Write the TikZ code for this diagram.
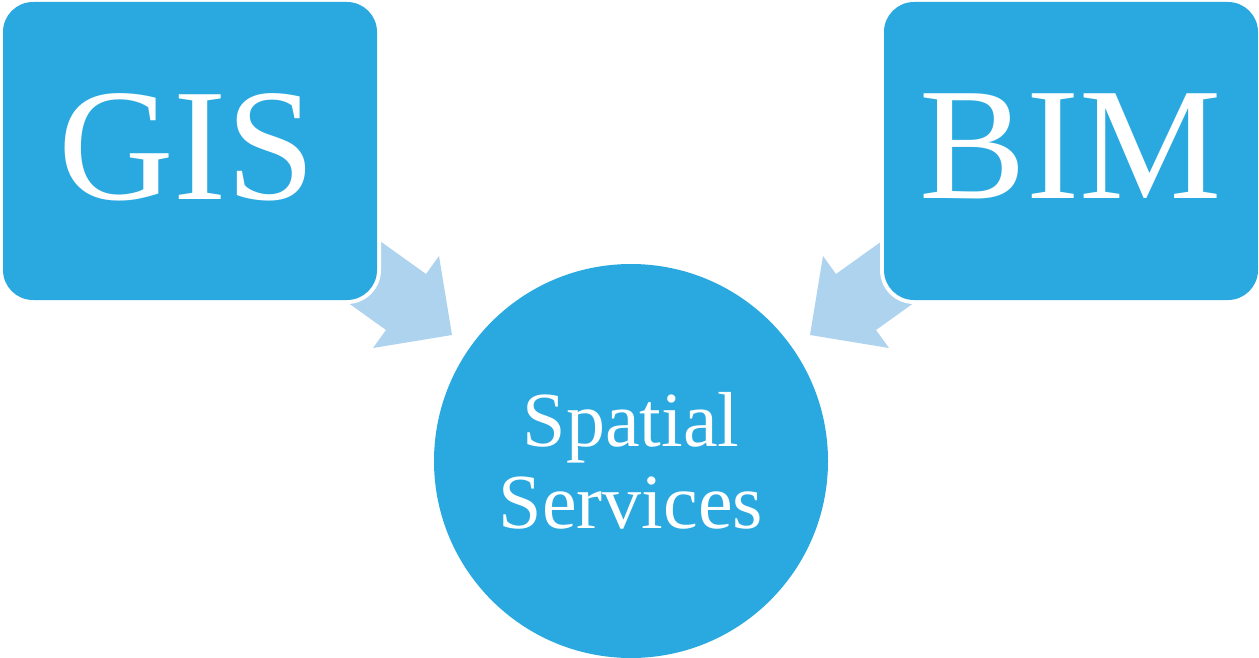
\documentclass[tikz,border=0pt]{standalone}
\usepackage{fontspec}
\setmainfont{Liberation Serif}
\definecolor{boxblue}{HTML}{29A9E0}
\definecolor{arrowblue}{HTML}{AED3EE}
\begin{document}
\begin{tikzpicture}[x=1pt,y=-1pt,
  bluebox/.style={fill=boxblue, draw=none, rounded corners=30pt, minimum width=374pt, minimum height=298pt, inner sep=0pt},
  halo/.style={fill=white, draw=none, rounded corners=34pt, minimum width=382pt, minimum height=306pt, inner sep=0pt},
  bigtext/.style={text=white, font=\fontsize{160}{160}\selectfont, inner sep=0pt, anchor=base},
  blockarrow/.style={fill=arrowblue, draw=none}]
\useasboundingbox (0,0) rectangle (1259,658);
% block arrows (behind the boxes)
\fill[blockarrow] (345,216) -- (426,274) -- (439,256) -- (452,335) -- (373,348) -- (386,330) -- (305,272) -- cycle;
\fill[blockarrow] (917,216) -- (836,274) -- (823,256) -- (810,335) -- (889,348) -- (876,330) -- (957,272) -- cycle;
% white halos
\node[halo] (gish) at (190,151) {};
\node[halo] (bimh) at (1071,151) {};
% boxes
\node[bluebox] (gis) at (190,151) {};
\node[bluebox] (bim) at (1071,151) {};
\node[bigtext] (gist) at (187,200) {GIS};
\node[bigtext] (bimt) at (1071,199) {BIM};
% circle
\node[circle, fill=boxblue, minimum size=394pt, inner sep=0pt, text=white, align=center,
  font=\fontsize{78}{82}\selectfont] (ss) at (631,461) {Spatial\\Services};
\end{tikzpicture}
\end{document}
